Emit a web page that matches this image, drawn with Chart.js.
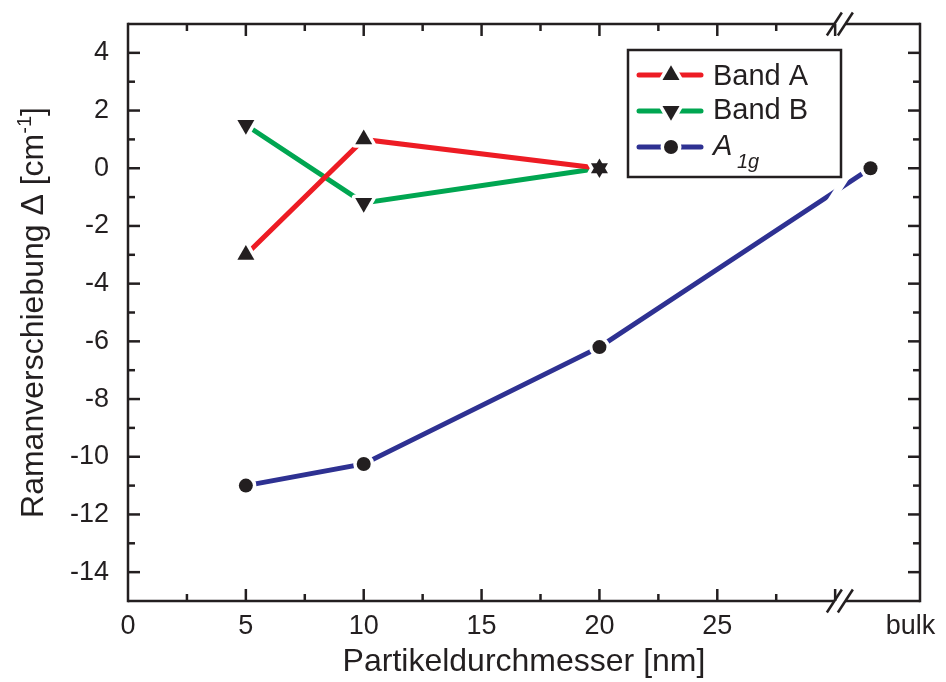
<!DOCTYPE html>
<html lang="de">
<head>
<meta charset="UTF-8">
<title>Ramanverschiebung</title>
<script src="https://cdn.jsdelivr.net/npm/chart.js"></script>
<style>
  body { margin: 0; background: #fff; }
</style>
</head>
<body>
<canvas id="ramanChart" width="946" height="682"></canvas>
<script>
// particle sizes in nm; the bulk value sits behind an axis break
var sizes = [5, 10, 20];
var bulkPos = 31.5;
var breakAt = 30.2;
var xMax = 33.6;
var bulkLabelAt = 33.2;

var bandA = [-3, 1, 0];
var bandB = [1.5, -1.2, 0];
var a1gX = sizes.concat([bulkPos]);
var a1g = [-11, -10.25, -6.2, 0];

var xTickValues = [0, 5, 10, 15, 20, 25];
var yTickValues = [-14, -12, -10, -8, -6, -4, -2, 0, 2, 4];

var ink = '#231f20';
var fontFamily = "'Liberation Sans', Arial, Helvetica, sans-serif";

function pairs(xs, ys) {
    return ys.map(function (y, i) { return { x: xs[i], y: y }; });
}

// marker outline, centred on the data point (triangles on their centroid)
function markerPath(ctx, shape, x, y) {
    ctx.beginPath();
    if (shape === 'circle') {
        ctx.arc(x, y, 7, 0, Math.PI * 2);
        return;
    }
    var r = 9.8, half = 8.5;
    var s = shape === 'up' ? 1 : -1;
    ctx.moveTo(x, y - s * r);
    ctx.lineTo(x + half, y + s * r / 2);
    ctx.lineTo(x - half, y + s * r / 2);
    ctx.closePath();
}

function drawMarker(ctx, shape, x, y) {
    // white halo first so the line stops short of the marker
    ctx.save();
    markerPath(ctx, shape, x, y);
    ctx.fillStyle = '#fff';
    ctx.strokeStyle = '#fff';
    ctx.lineWidth = 7;
    ctx.lineJoin = 'round';
    ctx.fill();
    ctx.stroke();
    ctx.restore();
}

function drawMarkerBody(ctx, shape, x, y) {
    markerPath(ctx, shape, x, y);
    ctx.fillStyle = ink;
    ctx.fill();
}

function seg(ctx, x1, y1, x2, y2) {
    ctx.beginPath();
    ctx.moveTo(x1, y1);
    ctx.lineTo(x2, y2);
    ctx.stroke();
}

function noEdgePadding(scale) {
    scale.paddingTop = 0;
    scale.paddingBottom = 0;
    scale.paddingLeft = 0;
    scale.paddingRight = 0;
}

var decorPlugin = {
    id: 'decor',
    afterDatasetsDraw: function (chart) {
        var ctx = chart.ctx;
        var xs = chart.scales.x;

        // gap in the A1g line where it crosses the axis break
        var meta = chart.getDatasetMeta(2);
        var p1 = meta.data[2], p2 = meta.data[3];
        var bx = xs.getPixelForValue(breakAt) - 2;
        var t = (bx - p1.x) / (p2.x - p1.x);
        var cy = p1.y + t * (p2.y - p1.y);
        ctx.save();
        ctx.strokeStyle = '#fff';
        ctx.lineWidth = 7;
        seg(ctx, bx - 9, cy + 14, bx + 9, cy - 14);
        ctx.restore();

        var all = [];
        chart.data.datasets.forEach(function (ds, i) {
            chart.getDatasetMeta(i).data.forEach(function (pt) {
                all.push({ shape: ds.marker, x: pt.x, y: pt.y });
            });
        });
        all.forEach(function (m) { drawMarker(ctx, m.shape, m.x, m.y); });
        all.forEach(function (m) { drawMarkerBody(ctx, m.shape, m.x, m.y); });
    },
    afterDraw: function (chart) {
        var ctx = chart.ctx;
        var ca = chart.chartArea;
        var xs = chart.scales.x, ys = chart.scales.y;
        var bx = xs.getPixelForValue(breakAt);
        var v, px, len;

        ctx.save();
        ctx.strokeStyle = ink;
        ctx.lineWidth = 2.5;
        ctx.lineCap = 'butt';

        // frame, broken at the axis break on top and bottom
        seg(ctx, ca.left, ca.top - 1.25, ca.left, ca.bottom + 1.25);
        seg(ctx, ca.right, ca.top - 1.25, ca.right, ca.bottom + 1.25);
        [ca.top, ca.bottom].forEach(function (y) {
            seg(ctx, ca.left, y, bx - 5.5, y);
            seg(ctx, bx + 5.5, y, ca.right, y);
            seg(ctx, bx - 13, y + 11.5, bx + 2, y - 11.5);
            seg(ctx, bx - 2, y + 11.5, bx + 13, y - 11.5);
        });

        // inward ticks on all four sides
        for (v = 2.5; v < breakAt; v += 2.5) {
            px = xs.getPixelForValue(v);
            len = v % 5 === 0 ? 12 : 7;
            seg(ctx, px, ca.bottom, px, ca.bottom - len);
            seg(ctx, px, ca.top, px, ca.top + len);
        }
        for (v = -14; v <= 4; v++) {
            px = ys.getPixelForValue(v);
            len = v % 2 === 0 ? 12 : 7;
            seg(ctx, ca.left, px, ca.left + len, px);
            seg(ctx, ca.right, px, ca.right - len, px);
        }

        // y axis title with superscript unit
        var main = 'Ramanverschiebung \u0394 [cm', sup = '-1', tail = ']';
        ctx.font = '32px ' + fontFamily;
        var wMain = ctx.measureText(main).width;
        var wTail = ctx.measureText(tail).width;
        ctx.font = '20px ' + fontFamily;
        var wSup = ctx.measureText(sup).width;
        var total = wMain + wSup + wTail;
        ctx.translate(43, (ca.top + ca.bottom) / 2);
        ctx.rotate(-Math.PI / 2);
        ctx.fillStyle = ink;
        ctx.textBaseline = 'alphabetic';
        ctx.textAlign = 'left';
        ctx.font = '32px ' + fontFamily;
        ctx.fillText(main, -total / 2, 0);
        ctx.fillText(tail, -total / 2 + wMain + wSup, 0);
        ctx.font = '20px ' + fontFamily;
        ctx.fillText(sup, -total / 2 + wMain, -12);
        ctx.restore();

        // legend box
        var box = { left: 628, top: 50, right: 841, bottom: 177 };
        ctx.save();
        ctx.fillStyle = '#fff';
        ctx.fillRect(box.left, box.top, box.right - box.left, box.bottom - box.top);
        ctx.strokeStyle = ink;
        ctx.lineWidth = 2.5;
        ctx.strokeRect(box.left, box.top, box.right - box.left, box.bottom - box.top);

        var rows = [
            { ds: chart.data.datasets[0], y: 75, base: 85 },
            { ds: chart.data.datasets[1], y: 111, base: 119 },
            { ds: chart.data.datasets[2], y: 147, base: 155 }
        ];
        rows.forEach(function (row) {
            ctx.strokeStyle = row.ds.borderColor;
            ctx.lineWidth = 5;
            ctx.lineCap = 'round';
            seg(ctx, 639, row.y, 701, row.y);
            drawMarker(ctx, row.ds.marker, 671, row.y);
            drawMarkerBody(ctx, row.ds.marker, 671, row.y);
        });
        ctx.fillStyle = ink;
        ctx.textAlign = 'left';
        ctx.textBaseline = 'alphabetic';
        ctx.font = '29px ' + fontFamily;
        ctx.fillText('Band A', 713, rows[0].base);
        ctx.fillText('Band B', 713, rows[1].base);
        ctx.font = 'italic 29px ' + fontFamily;
        ctx.fillText('A', 713, rows[2].base);
        ctx.font = 'italic 20px ' + fontFamily;
        ctx.fillText('1g', 737, rows[2].base + 13);
        ctx.restore();
    }
};

var ctx = document.getElementById('ramanChart').getContext('2d');
var ramanChart = new Chart(ctx, {
    type: 'line',
    data: {
        datasets: [{
            label: 'Band A',
            data: pairs(sizes, bandA),
            borderColor: '#ed1c24',
            marker: 'up'
        }, {
            label: 'Band B',
            data: pairs(sizes, bandB),
            borderColor: '#00a651',
            marker: 'down'
        }, {
            label: 'A1g',
            data: pairs(a1gX, a1g),
            borderColor: '#2e3192',
            marker: 'circle'
        }]
    },
    options: {
        responsive: false,
        animation: false,
        events: [],
        layout: { padding: { top: 24, right: 26, left: 0, bottom: 0 } },
        elements: {
            line: { borderWidth: 5, borderCapStyle: 'round', tension: 0, fill: false },
            point: { radius: 0, hoverRadius: 0 }
        },
        plugins: {
            legend: { display: false },
            tooltip: { enabled: false }
        },
        scales: {
            x: {
                type: 'linear',
                min: 0,
                max: xMax,
                grid: { display: false, drawTicks: false },
                border: { display: false },
                afterBuildTicks: function (scale) {
                    scale.ticks = xTickValues.map(function (v) { return { value: v }; })
                        .concat([{ value: bulkLabelAt }]);
                },
                afterFit: function (scale) {
                    scale.height = 81;
                    noEdgePadding(scale);
                },
                ticks: {
                    autoSkip: false,
                    maxRotation: 0,
                    padding: 9,
                    color: ink,
                    font: { family: fontFamily, size: 27 },
                    callback: function (value) {
                        return value === bulkLabelAt ? 'bulk' : value;
                    }
                },
                title: {
                    display: true,
                    text: 'Partikeldurchmesser [nm]',
                    color: ink,
                    font: { family: fontFamily, size: 32 },
                    padding: { top: 0, bottom: 1 }
                }
            },
            y: {
                type: 'linear',
                min: -15,
                max: 5,
                grid: { display: false, drawTicks: false },
                border: { display: false },
                afterBuildTicks: function (scale) {
                    scale.ticks = yTickValues.map(function (v) { return { value: v }; });
                },
                afterFit: function (scale) {
                    scale.width = 128;
                    noEdgePadding(scale);
                },
                ticks: {
                    padding: 19,
                    color: ink,
                    font: { family: fontFamily, size: 27 }
                }
            }
        }
    },
    plugins: [decorPlugin]
});
</script>
</body>
</html>
